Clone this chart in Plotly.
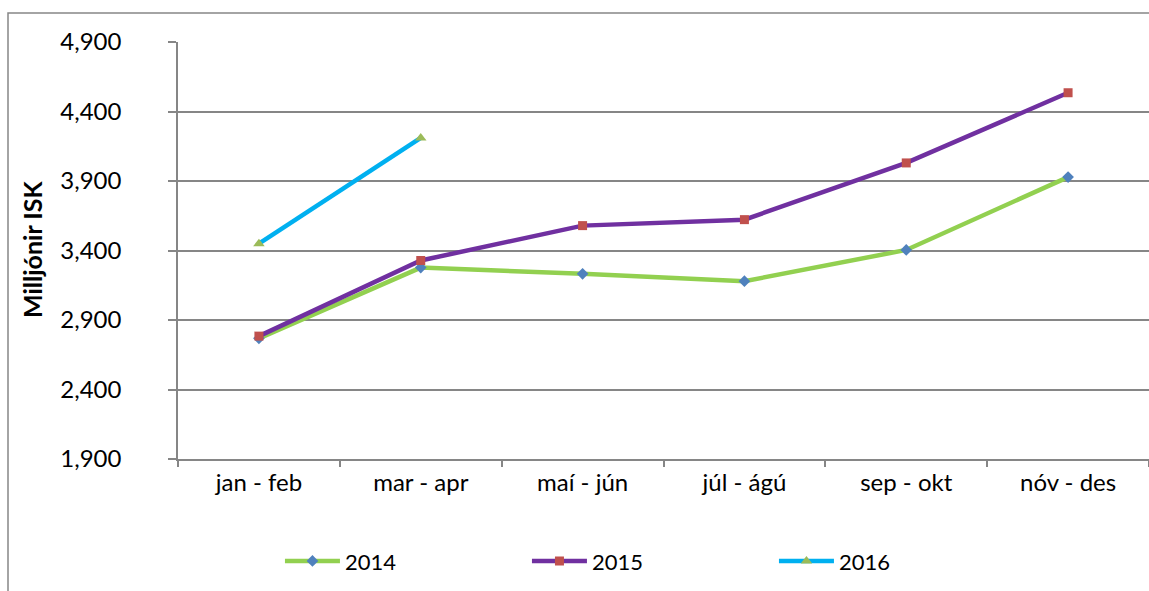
import plotly.graph_objects as go

categories = ["jan - feb", "mar - apr", "maí - jún", "júl - ágú", "sep - okt", "nóv - des"]
v2014 = [2768, 3277, 3232, 3179, 3404, 3928]
v2015 = [2784, 3328, 3579, 3622, 4030, 4535]
v2016 = [3449, 4210]
y_ticks = [1900, 2400, 2900, 3400, 3900, 4400, 4900]

FONT = "Lato"

fig = go.Figure()
fig.add_trace(go.Scatter(x=categories, y=v2014, name="2014", mode="lines+markers",
                         line=dict(color="#92D050", width=4.5),
                         marker=dict(symbol="diamond", size=9, color="#4F81BD")))
fig.add_trace(go.Scatter(x=categories, y=v2015, name="2015", mode="lines+markers",
                         line=dict(color="#7030A0", width=4.5),
                         marker=dict(symbol="square", size=9, color="#C0504D")))
fig.add_trace(go.Scatter(x=categories[:len(v2016)], y=v2016, name="2016", mode="lines+markers",
                         line=dict(color="#00B0F0", width=4.5),
                         marker=dict(symbol="triangle-up", size=10, color="#9BBB59")))

fig.update_layout(
    width=1149, height=591,
    margin=dict(l=178, r=0, t=42, b=132, autoexpand=False),
    paper_bgcolor="white", plot_bgcolor="white",
    font=dict(family=FONT, size=24, color="black"),
    showlegend=True,
    legend=dict(orientation="h", x=0.105, xanchor="left", y=-0.245, yanchor="middle",
                entrywidth=177, entrywidthmode="pixels", itemwidth=55,
                font=dict(family=FONT, size=22, color="black")),
    xaxis=dict(type="category", range=[-0.5, 5.5], showgrid=False,
               showline=True, linecolor="#868686", linewidth=1.5,
               ticks="outside", tickson="boundaries", ticklen=6, tickcolor="#868686", tickwidth=1.5,
               ticklabelstandoff=1,
               tickfont=dict(family=FONT, size=24, color="black")),
    yaxis=dict(range=[1900, 4900], tickvals=y_ticks, tickformat=",d",
               showgrid=True, gridcolor="#868686", gridwidth=1.5,
               showline=True, linecolor="#868686", linewidth=1.5,
               ticks="outside", ticklen=8, tickcolor="#868686", tickwidth=1.5,
               ticklabelstandoff=42, zeroline=False,
               tickfont=dict(family=FONT, size=24, color="black")),
)

fig.add_annotation(text="<b>Milljónir ISK</b>", xref="paper", yref="paper",
                   x=(32 - 178) / 971, y=(459 - 250) / 417, xanchor="center", yanchor="middle",
                   textangle=-90, showarrow=False,
                   font=dict(family=FONT, size=25, color="black"))

fig.add_shape(type="rect", xref="paper", yref="paper",
              x0=(8 - 178) / 971, x1=1.2, y0=-0.5, y1=(459 - 13) / 417,
              line=dict(color="#868686", width=1.5), fillcolor="rgba(0,0,0,0)", layer="below")

fig.write_html("out.html", config={"responsive": False, "displayModeBar": False},
               post_script="document.body.style.margin='0';document.body.style.overflow='hidden';")
